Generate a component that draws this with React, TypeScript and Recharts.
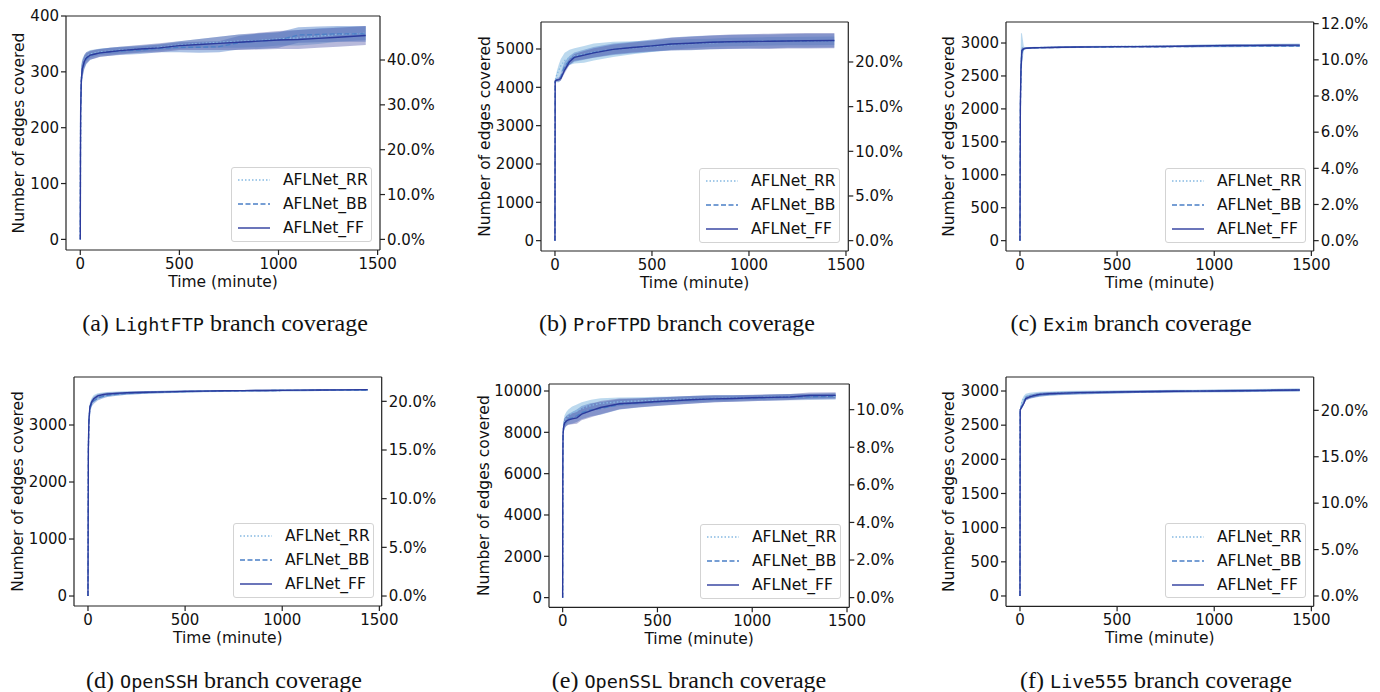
import React from "react";
import {
  ComposedChart,
  Area,
  Line,
  XAxis,
  YAxis,
  Legend,
  ReferenceLine,
} from "recharts";

// sample times (minutes) shared by all six runs
const minutes = [0, 1, 2, 5, 10, 20, 30, 50, 75, 100, 150, 200, 300, 400, 500, 600, 700, 800, 900, 1000, 1100, 1200, 1300, 1440];
const timeTicks = [0, 500, 1000, 1500];
const seriesNames = ["AFLNet_RR", "AFLNet_BB", "AFLNet_FF"];
const captionTags = ["(a)", "(b)", "(c)", "(d)", "(e)", "(f)"];
const programs = ["LightFTP", "ProFTPD", "Exim", "OpenSSH", "OpenSSL", "Live555"];

// LightFTP
const lightftpRR = [0, 155, 235, 288, 308, 320, 327, 332, 334, 336, 337, 339, 341, 344, 348, 351, 353, 355, 356, 359, 361, 364, 367, 369];
const lightftpBB = [0, 145, 225, 280, 302, 316, 323, 329, 332, 334, 336, 337, 339, 342, 344, 344, 345, 352, 355, 357, 366, 367, 368, 368];
const lightftpFF = [0, 150, 230, 285, 305, 318, 325, 330, 332, 334, 336, 338, 341, 343, 347, 349, 351, 353, 355, 357, 358, 360, 362, 365];
const lightftpRRSpread = [0, 30, 30, 25, 15, 10, 8, 7, 6, 6, 6, 6, 6, 6, 7, 8, 10, 12, 12, 12, 14, 14, 13, 12];
const lightftpBBSpread = [0, 30, 30, 25, 15, 12, 10, 8, 7, 7, 7, 7, 7, 7, 9, 10, 10, 12, 14, 14, 14, 14, 14, 14];
const lightftpFFSpread = [0, 30, 30, 25, 15, 12, 10, 8, 8, 7, 7, 7, 7, 8, 8, 10, 12, 14, 15, 16, 17, 17, 17, 17];
const lightftpTicks = [0, 100, 200, 300, 400];
const lightftpPctTicks = [0, 0.1, 0.2, 0.3, 0.4];

// ProFTPD
const proftpdRR = [0, 4160, 4200, 4260, 4330, 4450, 4560, 4700, 4780, 4820, 4860, 4920, 4990, 5030, 5070, 5110, 5140, 5160, 5180, 5190, 5200, 5205, 5210, 5215];
const proftpdBB = [0, 4150, 4165, 4180, 4190, 4210, 4280, 4550, 4700, 4790, 4850, 4910, 4995, 5040, 5085, 5130, 5150, 5175, 5185, 5195, 5200, 5210, 5215, 5220];
const proftpdFF = [0, 4150, 4170, 4180, 4190, 4200, 4230, 4450, 4670, 4780, 4840, 4900, 4990, 5040, 5080, 5130, 5150, 5175, 5190, 5195, 5200, 5210, 5215, 5220];
const proftpdRRSpread = [0, 30, 40, 60, 100, 150, 180, 200, 200, 200, 220, 220, 200, 170, 150, 130, 120, 110, 110, 110, 110, 110, 110, 110];
const proftpdBBSpread = [0, 20, 30, 40, 60, 80, 100, 120, 120, 120, 130, 140, 150, 150, 160, 170, 180, 180, 180, 180, 180, 180, 180, 180];
const proftpdFFSpread = [0, 20, 20, 20, 30, 40, 60, 80, 80, 90, 110, 120, 130, 130, 140, 160, 170, 180, 190, 190, 200, 200, 200, 200];
const proftpdTicks = [0, 1000, 2000, 3000, 4000, 5000];
const proftpdPctTicks = [0, 0.05, 0.1, 0.15, 0.2];

// Exim
const eximRR = [0, 1300, 2100, 2700, 2900, 2920, 2925, 2928, 2930, 2932, 2935, 2938, 2942, 2945, 2948, 2950, 2952, 2954, 2958, 2962, 2964, 2966, 2968, 2972];
const eximBB = [0, 1150, 2000, 2550, 2880, 2910, 2918, 2922, 2925, 2927, 2930, 2932, 2936, 2938, 2940, 2941, 2942, 2944, 2948, 2950, 2952, 2953, 2954, 2955];
const eximFF = [0, 1200, 2050, 2600, 2890, 2915, 2920, 2925, 2928, 2930, 2932, 2935, 2940, 2942, 2945, 2946, 2948, 2950, 2955, 2960, 2962, 2964, 2966, 2968];
const eximRRSpread = [0, 500, 500, 450, 250, 25, 15, 12, 12, 12, 12, 12, 12, 12, 12, 12, 12, 12, 18, 20, 20, 20, 20, 22];
const eximBBSpread = [0, 400, 350, 300, 60, 15, 12, 10, 10, 10, 10, 10, 10, 10, 10, 10, 10, 10, 15, 15, 15, 15, 15, 15];
const eximFFSpread = [0, 300, 300, 200, 40, 15, 12, 10, 10, 10, 10, 10, 10, 10, 10, 10, 10, 10, 15, 15, 15, 15, 15, 15];
const eximTicks = [0, 500, 1000, 1500, 2000, 2500, 3000];
const eximPctTicks = [0, 0.02, 0.04, 0.06, 0.08, 0.1, 0.12];

// OpenSSH
const opensshRR = [0, 1550, 2650, 3120, 3330, 3420, 3470, 3505, 3525, 3540, 3552, 3562, 3572, 3580, 3586, 3591, 3596, 3600, 3603, 3606, 3609, 3612, 3615, 3618];
const opensshBB = [0, 1450, 2550, 3050, 3280, 3380, 3420, 3470, 3500, 3520, 3540, 3555, 3570, 3580, 3588, 3593, 3598, 3601, 3604, 3606, 3608, 3610, 3612, 3614];
const opensshFF = [0, 1500, 2600, 3100, 3320, 3410, 3460, 3510, 3530, 3545, 3555, 3565, 3575, 3582, 3590, 3595, 3600, 3603, 3606, 3608, 3611, 3614, 3617, 3620];
const opensshRRSpread = [0, 200, 150, 100, 70, 60, 55, 50, 45, 40, 35, 30, 25, 22, 20, 18, 16, 15, 15, 15, 15, 15, 15, 15];
const opensshBBSpread = [0, 150, 120, 80, 60, 50, 45, 40, 35, 30, 28, 25, 22, 20, 18, 16, 15, 15, 15, 15, 15, 15, 15, 15];
const opensshFFSpread = [0, 150, 120, 80, 50, 40, 35, 30, 28, 25, 22, 20, 18, 16, 15, 14, 13, 13, 13, 13, 13, 13, 13, 13];
const opensshTicks = [0, 1000, 2000, 3000];
const opensshPctTicks = [0, 0.05, 0.1, 0.15, 0.2];

// OpenSSL
const opensslRR = [0, 6600, 8000, 8350, 8550, 8700, 8800, 8950, 9050, 9150, 9300, 9400, 9480, 9520, 9560, 9590, 9620, 9640, 9660, 9680, 9700, 9720, 9740, 9760];
const opensslBB = [0, 6400, 7800, 8200, 8420, 8560, 8640, 8700, 8800, 8950, 9100, 9150, 9350, 9420, 9480, 9530, 9580, 9620, 9640, 9660, 9680, 9700, 9720, 9740];
const opensslFF = [0, 6500, 7900, 8250, 8450, 8550, 8600, 8650, 8700, 8880, 9050, 9200, 9380, 9430, 9490, 9540, 9590, 9620, 9640, 9670, 9690, 9710, 9780, 9790];
const opensslRRSpread = [0, 400, 300, 250, 280, 300, 300, 300, 300, 300, 280, 250, 200, 180, 160, 150, 150, 140, 130, 120, 120, 120, 120, 120];
const opensslBBSpread = [0, 400, 300, 250, 250, 250, 250, 280, 300, 320, 320, 300, 250, 220, 200, 190, 180, 170, 160, 150, 150, 150, 150, 150];
const opensslFFSpread = [0, 400, 300, 250, 230, 230, 240, 260, 280, 300, 320, 320, 260, 220, 200, 190, 180, 170, 160, 150, 150, 150, 150, 150];
const opensslTicks = [0, 2000, 4000, 6000, 8000, 10000];
const opensslPctTicks = [0, 0.02, 0.04, 0.06, 0.08, 0.1];

// Live555
const live555RR = [0, 2730, 2750, 2790, 2840, 2890, 2920, 2935, 2945, 2955, 2963, 2970, 2978, 2983, 2987, 2991, 2994, 2997, 3000, 3002, 3005, 3008, 3012, 3016];
const live555BB = [0, 2710, 2725, 2745, 2780, 2840, 2895, 2915, 2930, 2945, 2955, 2962, 2972, 2978, 2984, 2988, 2992, 2995, 2998, 3000, 3002, 3005, 3008, 3012];
const live555FF = [0, 2720, 2730, 2745, 2770, 2820, 2890, 2915, 2935, 2950, 2960, 2966, 2976, 2980, 2985, 2990, 2993, 2996, 2998, 3000, 3003, 3006, 3010, 3015];
const live555RRSpread = [0, 25, 25, 30, 35, 40, 40, 40, 35, 35, 30, 30, 25, 25, 22, 20, 20, 20, 20, 20, 20, 20, 20, 20];
const live555BBSpread = [0, 20, 20, 25, 30, 35, 35, 30, 30, 28, 25, 25, 22, 20, 20, 18, 18, 18, 18, 18, 20, 20, 20, 20];
const live555FFSpread = [0, 15, 15, 20, 25, 30, 30, 25, 25, 22, 20, 20, 18, 16, 15, 15, 15, 15, 15, 15, 15, 15, 15, 15];
const live555Ticks = [0, 500, 1000, 1500, 2000, 2500, 3000];
const live555PctTicks = [0, 0.05, 0.1, 0.15, 0.2];

// total edges per program (for the % axis)
const totalEdges = [803, 23304, 27445, 17076, 90970, 13585];

const FONT = "'DejaVu Sans', sans-serif";
const X_DOMAIN = [-72, 1512];
const AXIS_COLOR = "#222";

const STYLES = [
  { key: "rr", line: "#86b9e2", dash: "1.5 2", band: "#8fbfe3", bandOpacity: 0.6, width: 1.3 },
  { key: "bb", line: "#4a7fc6", dash: "5 2.5", band: "#5a86cc", bandOpacity: 0.5, width: 1.3 },
  { key: "ff", line: "#2b3a9c", dash: undefined, band: "#4a4fa6", bandOpacity: 0.4, width: 1.4 },
];

// frame = plot box in page pixels
const PANELS = [
  { frame: [66, 16, 380, 250], yDomain: [-19, 400], ticks: lightftpTicks, pct: lightftpPctTicks, gap: 48, caption: [225, 323],
    rr: lightftpRR, bb: lightftpBB, ff: lightftpFF, rrS: lightftpRRSpread, bbS: lightftpBBSpread, ffS: lightftpFFSpread },
  { frame: [540.7, 22, 848, 251], yDomain: [-270, 5704], ticks: proftpdTicks, pct: proftpdPctTicks, gap: 57, caption: [677, 323],
    rr: proftpdRR, bb: proftpdBB, ff: proftpdFF, rrS: proftpdRRSpread, bbS: proftpdBBSpread, ffS: proftpdFFSpread },
  { frame: [1006.3, 22, 1314, 251], yDomain: [-157, 3319], ticks: eximTicks, pct: eximPctTicks, gap: 57, caption: [1131, 323],
    rr: eximRR, bb: eximBB, ff: eximFF, rrS: eximRRSpread, bbS: eximBBSpread, ffS: eximFFSpread },
  { frame: [74.3, 377, 382, 606], yDomain: [-175, 3842], ticks: opensshTicks, pct: opensshPctTicks, gap: 56.5, caption: [224, 680],
    rr: opensshRR, bb: opensshBB, ff: opensshFF, rrS: opensshRRSpread, bbS: opensshBBSpread, ffS: opensshFFSpread },
  { frame: [548.7, 383.7, 849, 607], yDomain: [-468, 10339], ticks: opensslTicks, pct: opensslPctTicks, gap: 65.7, caption: [689, 680],
    rr: opensslRR, bb: opensslBB, ff: opensslFF, rrS: opensslRRSpread, bbS: opensslBBSpread, ffS: opensslFFSpread },
  { frame: [1006.3, 377, 1314, 606.3], yDomain: [-151, 3205], ticks: live555Ticks, pct: live555PctTicks, gap: 57, caption: [1156, 680],
    rr: live555RR, bb: live555BB, ff: live555FF, rrS: live555RRSpread, bbS: live555BBSpread, ffS: live555FFSpread },
];

const LEFT_W = 80;
const RIGHT_W = 75;
const TOP_PAD = 10;
const BOTTOM_H = 45;
const LEG_W = 141;
const LEG_H = 75;

function LegendBox() {
  return (
    <div
      style={{
        width: LEG_W,
        height: LEG_H,
        boxSizing: "border-box",
        border: "1px solid #d3d3d3",
        borderRadius: 3,
        background: "rgba(255,255,255,0.85)",
        position: "relative",
        fontFamily: FONT,
        fontSize: 15.5,
        color: "#111",
      }}
    >
      {STYLES.map((s, i) => (
        <div
          key={s.key}
          style={{ position: "absolute", left: 0, top: 2.3 + i * 24, height: 20, display: "flex", alignItems: "center", whiteSpace: "nowrap" }}
        >
          <svg width={51} height={20} style={{ display: "block" }}>
            <line x1={6} x2={38} y1={10} y2={10} stroke={s.line} strokeWidth={s.width} strokeDasharray={s.dash} />
          </svg>
          <span style={{ lineHeight: "20px" }}>{seriesNames[i]}</span>
        </div>
      ))}
    </div>
  );
}

function Panel({ p, idx }: { p: any; idx: number }) {
  const [fl, ft, fr, fb] = p.frame;
  const fw = fr - fl;
  const fh = fb - ft;
  const total = totalEdges[idx];
  const data = minutes.map((t, i) => ({
    t,
    rr: p.rr[i],
    bb: p.bb[i],
    ff: p.ff[i],
    rrBand: [p.rr[i] - p.rrS[i], p.rr[i] + p.rrS[i]],
    bbBand: [p.bb[i] - p.bbS[i], p.bb[i] + p.bbS[i]],
    ffBand: [p.ff[i] - p.ffS[i], p.ff[i] + p.ffS[i]],
  }));
  const tickStyle = { fill: "#111", fontSize: 15, fontFamily: FONT };

  return (
    <div style={{ position: "absolute", left: fl - LEFT_W, top: ft - TOP_PAD }}>
      <ComposedChart
        width={fw + LEFT_W + RIGHT_W}
        height={fh + TOP_PAD + BOTTOM_H}
        data={data}
        margin={{ top: TOP_PAD, right: 0, bottom: 0, left: 0 }}
      >
        <XAxis
          dataKey="t"
          type="number"
          domain={X_DOMAIN}
          ticks={timeTicks}
          allowDataOverflow
          height={BOTTOM_H}
          stroke={AXIS_COLOR}
          strokeWidth={1.2}
          tick={tickStyle}
          tickSize={5}
          tickMargin={3}
          label={{ value: "Time (minute)", position: "insideBottom", offset: 8, fill: "#111", fontSize: 15.5, fontFamily: FONT }}
        />
        <YAxis
          yAxisId="edges"
          type="number"
          domain={p.yDomain}
          ticks={p.ticks}
          allowDataOverflow
          width={LEFT_W}
          stroke={AXIS_COLOR}
          strokeWidth={1.2}
          tick={tickStyle}
          tickSize={5}
          tickMargin={2}
          label={{
            value: "Number of edges covered",
            angle: -90,
            position: "insideLeft",
            offset: LEFT_W - p.gap,
            textAnchor: "middle",
            style: { textAnchor: "middle" },
            fill: "#111",
            fontSize: 15.5,
            fontFamily: FONT,
          }}
        />
        <YAxis
          yAxisId="pct"
          orientation="right"
          type="number"
          domain={[p.yDomain[0] / total, p.yDomain[1] / total]}
          ticks={p.pct}
          allowDataOverflow
          width={RIGHT_W}
          stroke={AXIS_COLOR}
          strokeWidth={1.2}
          tick={tickStyle}
          tickSize={5}
          tickMargin={2}
          tickFormatter={(v: number) => (v * 100).toFixed(1) + "%"}
        />
        {STYLES.map((s) => (
          <Area
            key={s.key + "Band"}
            yAxisId="edges"
            type="linear"
            dataKey={s.key + "Band"}
            stroke="none"
            fill={s.band}
            fillOpacity={s.bandOpacity}
            isAnimationActive={false}
            legendType="none"
          />
        ))}
        {STYLES.map((s, i) => (
          <Line
            key={s.key}
            yAxisId="edges"
            type="linear"
            dataKey={s.key}
            name={seriesNames[i]}
            stroke={s.line}
            strokeWidth={s.width}
            strokeDasharray={s.dash}
            dot={false}
            isAnimationActive={false}
          />
        ))}
        <ReferenceLine yAxisId="edges" y={p.yDomain[1]} stroke={AXIS_COLOR} strokeWidth={1.2} />
        <Legend
          layout="vertical"
          align="center"
          verticalAlign="middle"
          content={() => <LegendBox />}
          wrapperStyle={{
            left: LEFT_W + fw - 8 - LEG_W,
            top: TOP_PAD + fh - 8 - LEG_H,
            width: LEG_W,
            height: LEG_H,
          }}
        />
      </ComposedChart>
    </div>
  );
}

function Caption({ idx }: { idx: number }) {
  const [cx, cy] = PANELS[idx].caption;
  return (
    <div
      style={{
        position: "absolute",
        left: cx - 200,
        top: cy - 16,
        width: 400,
        height: 32,
        lineHeight: "32px",
        textAlign: "center",
        fontFamily: "'Liberation Serif', 'Times New Roman', serif",
        fontSize: 24,
        color: "#111",
        whiteSpace: "nowrap",
      }}
    >
      {captionTags[idx]}{" "}
      <span style={{ fontFamily: "'DejaVu Sans Mono', monospace", fontSize: 18.5 }}>{programs[idx]}</span>{" "}
      branch coverage
    </div>
  );
}

export default function App() {
  return (
    <div style={{ position: "absolute", left: 0, top: 0, width: 1380, height: 692, background: "#fff", overflow: "hidden" }}>
      {PANELS.map((p, i) => (
        <Panel key={i} p={p} idx={i} />
      ))}
      {PANELS.map((_, i) => (
        <Caption key={"c" + i} idx={i} />
      ))}
    </div>
  );
}
